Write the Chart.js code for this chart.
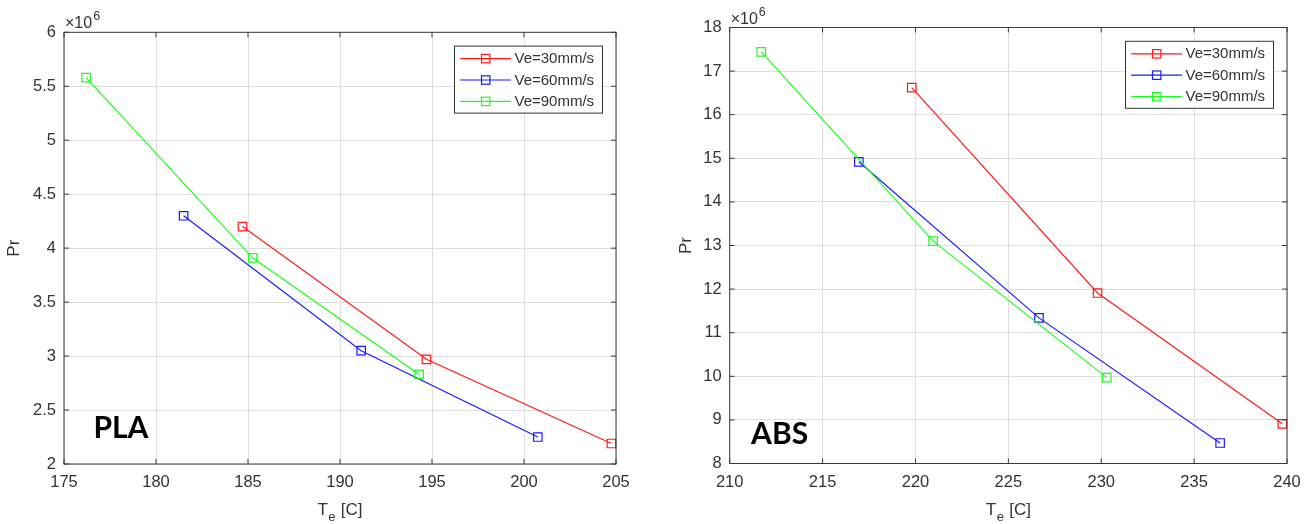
<!DOCTYPE html>
<html><head><meta charset="utf-8">
<script src="https://cdn.jsdelivr.net/npm/chart.js@4.4.1/dist/chart.umd.min.js"></script>
<style>
html,body{margin:0;padding:0;background:#fff;width:1315px;height:524px;overflow:hidden;position:relative;}
canvas{position:absolute;top:0;}
#c1{left:0;} #c2{left:660px;}
</style></head><body>
<canvas id="c1" width="645" height="524"></canvas>
<canvas id="c2" width="655" height="524"></canvas>
<script>
// ---------- DATA ----------
const seriesNames = ['Ve=30mm/s', 'Ve=60mm/s', 'Ve=90mm/s'];

// PLA
const plaTe30 = [184.7, 194.7, 204.75];
const plaPr30 = [4.20e6, 2.97e6, 2.19e6];
const plaTe60 = [181.5, 191.15, 200.75];
const plaPr60 = [4.30e6, 3.05e6, 2.25e6];
const plaTe90 = [176.2, 185.25, 194.3];
const plaPr90 = [5.58e6, 3.91e6, 2.83e6];

// ABS
const absTe30 = [219.8, 229.8, 239.75];
const absPr30 = [16.62e6, 11.91e6, 8.91e6];
const absTe60 = [216.95, 226.65, 236.4];
const absPr60 = [14.92e6, 11.34e6, 8.47e6];
const absTe90 = [211.7, 220.95, 230.3];
const absPr90 = [17.44e6, 13.10e6, 9.97e6];

// tick labels
const plaXTicks = [175, 180, 185, 190, 195, 200, 205];
const plaYTicks = [2, 2.5, 3, 3.5, 4, 4.5, 5, 5.5, 6];
const absXTicks = [210, 215, 220, 225, 230, 235, 240];
const absYTicks = [8, 9, 10, 11, 12, 13, 14, 15, 16, 17, 18];
const yExponent = 6;

// text labels
const xTitleMain = 'T', xTitleSub = 'e', xTitleRest = ' [C]';
const yTitle = 'Pr';
const plaTag = 'PLA', plaTagX = 176.6, plaTagY = 2.244e6;
const absTag = 'ABS', absTagX = 211.15, absTagY = 8.45e6;

// ---------- STYLE ----------
const colors = ['#ff1a1a', '#1a1aff', '#1aff1a'];
const FAM = '"Liberation Sans", Arial, Helvetica, sans-serif';
const textColor = '#333333';
const gridColor = '#dfdfdf';
const boxColor = '#3a3a3a';

const frame = {
  id: 'matlabFrame',
  afterDraw(chart, args, o) {
    const ctx = chart.ctx;
    const a = chart.chartArea;
    const xs = chart.scales.x, ys = chart.scales.y;
    ctx.save();
    // box
    ctx.strokeStyle = boxColor; ctx.lineWidth = 1;
    ctx.strokeRect(a.left, a.top, a.right - a.left, a.bottom - a.top);
    // inward ticks
    ctx.beginPath();
    o.xTicks.forEach(v => {
      const p = xs.getPixelForValue(v);
      ctx.moveTo(p, a.bottom); ctx.lineTo(p, a.bottom - 5);
      ctx.moveTo(p, a.top); ctx.lineTo(p, a.top + 5);
    });
    o.yTicks.forEach(v => {
      const p = ys.getPixelForValue(v * Math.pow(10, yExponent));
      ctx.moveTo(a.left, p); ctx.lineTo(a.left + 5, p);
      ctx.moveTo(a.right, p); ctx.lineTo(a.right - 5, p);
    });
    ctx.stroke();

    // exponent label
    ctx.fillStyle = textColor;
    ctx.textBaseline = 'alphabetic'; ctx.textAlign = 'left';
    ctx.font = '16px ' + FAM;
    const ex = a.left + 1, ey = a.top - 4;
    ctx.fillText('\u00d710', ex, ey);
    const w10 = ctx.measureText('\u00d710').width;
    ctx.font = '12.5px ' + FAM;
    ctx.fillText(String(yExponent), ex + w10 + 1, ey - 8);

    // x title with subscript
    ctx.font = '17px ' + FAM;
    const wT = ctx.measureText(xTitleMain).width;
    const wR = ctx.measureText(xTitleRest).width;
    ctx.font = '13px ' + FAM;
    const wE = ctx.measureText(xTitleSub).width;
    const cx = (a.left + a.right) / 2;
    let sx = cx - (wT + wE + wR + 1) / 2;
    const by = a.bottom + 51;
    ctx.font = '17px ' + FAM;
    ctx.fillText(xTitleMain, sx, by);
    ctx.font = '13px ' + FAM;
    ctx.fillText(xTitleSub, sx + wT + 0.5, by + 6);
    ctx.font = '17px ' + FAM;
    ctx.fillText(xTitleRest, sx + wT + wE + 1, by);

    // tag (PLA / ABS)
    ctx.fillStyle = '#000';
    ctx.font = 'bold 30px Lato, "Open Sans", sans-serif';
    ctx.fillText(o.tag, xs.getPixelForValue(o.tagX), ys.getPixelForValue(o.tagY));

    // legend
    const lw = 148, lh = 67;
    const lx = a.right - 13.5 - lw, ly = a.top + 13.8;
    ctx.fillStyle = '#fff';
    ctx.fillRect(lx, ly, lw, lh);
    ctx.strokeStyle = '#333'; ctx.lineWidth = 1;
    ctx.strokeRect(lx, ly, lw, lh);
    ctx.font = '15px ' + FAM;
    ctx.textBaseline = 'middle';
    seriesNames.forEach((name, i) => {
      const ry = ly + 12.5 + i * 21.4;
      ctx.strokeStyle = colors[i]; ctx.lineWidth = 1.2;
      ctx.beginPath(); ctx.moveTo(lx + 5.7, ry); ctx.lineTo(lx + 56.5, ry); ctx.stroke();
      ctx.strokeRect(lx + 31.2 - 4.2, ry - 4.2, 8.4, 8.4);
      ctx.fillStyle = textColor;
      ctx.fillText(name, lx + 60, ry + 0.5);
    });
    ctx.restore();
  }
};

function makeChart(id, cfg) {
  const datasets = cfg.xs.map((xArr, i) => ({
    label: seriesNames[i],
    data: xArr.map((x, j) => ({ x: x, y: cfg.ys[i][j] })),
    borderColor: colors[i], backgroundColor: 'transparent',
    borderWidth: 1.2, showLine: true, tension: 0,
    pointStyle: 'rect', pointRadius: 6, pointHoverRadius: 6,
    pointBorderWidth: 1.2, pointBorderColor: colors[i], pointBackgroundColor: 'transparent',
    order: 3 - i, clip: false
  }));
  const mul = Math.pow(10, yExponent);
  return new Chart(document.getElementById(id), {
    type: 'scatter',
    data: { datasets },
    options: {
      responsive: false, animation: false,
      events: [],
      layout: { padding: { top: cfg.padTop, right: cfg.padRight, left: 0, bottom: 0 } },
      plugins: {
        legend: { display: false }, tooltip: { enabled: false },
        matlabFrame: { xTicks: cfg.xTicks, yTicks: cfg.yTicks, tag: cfg.tag, tagX: cfg.tagX, tagY: cfg.tagY }
      },
      scales: {
        x: {
          type: 'linear', min: cfg.xTicks[0], max: cfg.xTicks[cfg.xTicks.length - 1],
          afterBuildTicks: s => { s.ticks = cfg.xTicks.map(v => ({ value: v })); },
          afterFit: s => { s.height = cfg.xAxisH; s.paddingLeft = 0; s.paddingRight = 0; },
          grid: { color: gridColor, lineWidth: 1, drawTicks: false },
          border: { display: false },
          ticks: { padding: 9, color: textColor, font: { family: FAM, size: 16.5 }, maxRotation: 0, autoSkip: false,
                   callback: v => String(v) }
        },
        y: {
          type: 'linear', min: cfg.yTicks[0] * mul, max: cfg.yTicks[cfg.yTicks.length - 1] * mul,
          afterBuildTicks: s => { s.ticks = cfg.yTicks.map(v => ({ value: v * mul })); },
          afterFit: s => { s.width = cfg.yAxisW; s.paddingTop = 0; s.paddingBottom = 0; },
          grid: { color: gridColor, lineWidth: 1, drawTicks: false },
          border: { display: false },
          ticks: { padding: 8, color: textColor, font: { family: FAM, size: 16.5 }, autoSkip: false,
                   callback: v => String(+(v / mul).toFixed(3)) },
          title: { display: true, text: yTitle, color: textColor, font: { family: FAM, size: 17 },
                   padding: { top: cfg.titlePad, bottom: 0 } }
        }
      }
    },
    plugins: [frame]
  });
}

makeChart('c1', {
  xs: [plaTe30, plaTe60, plaTe90], ys: [plaPr30, plaPr60, plaPr90],
  xTicks: plaXTicks, yTicks: plaYTicks,
  padTop: 32.3, padRight: 29, xAxisH: 60, yAxisW: 64, titlePad: 3.8,
  tag: plaTag, tagX: plaTagX, tagY: plaTagY
});
makeChart('c2', {
  xs: [absTe30, absTe60, absTe90], ys: [absPr30, absPr60, absPr90],
  xTicks: absXTicks, yTicks: absYTicks,
  padTop: 27.5, padRight: 28, xAxisH: 60.5, yAxisW: 69.7, titlePad: 15.8,
  tag: absTag, tagX: absTagX, tagY: absTagY
});
</script>
</body></html>
